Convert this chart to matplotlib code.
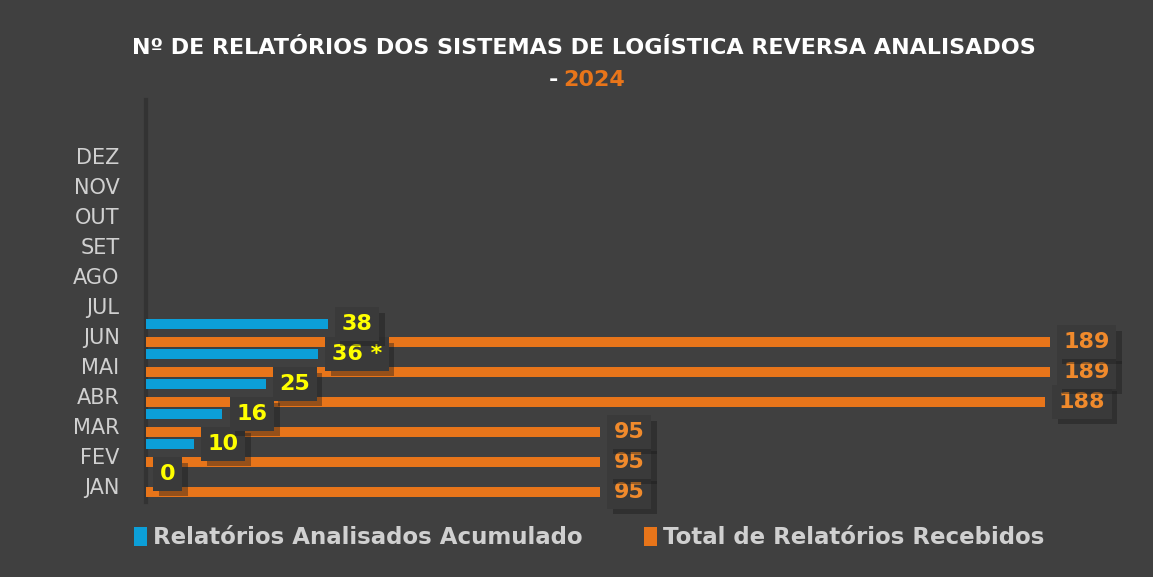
import numpy as np
import matplotlib.pyplot as plt
import matplotlib.patheffects as pe

# data
meses = ['JAN', 'FEV', 'MAR', 'ABR', 'MAI', 'JUN', 'JUL', 'AGO', 'SET', 'OUT', 'NOV', 'DEZ']
analisados = [0, 10, 16, 25, 36, 38]
analisados_txt = ['0', '10', '16', '25', '36 *', '38']
recebidos = [95, 95, 95, 188, 189, 189]

BG = '#404040'
AZUL = '#0c9fd8'
LARANJA = '#e8751a'
AMARELO = '#ffff00'
CINZA = '#d0d0d0'

fig = plt.figure(figsize=(11.53, 5.77), dpi=100, facecolor=BG)
ax = fig.add_axes([146 / 1153, 75 / 577, 980 / 1153, 402 / 577])
ax.set_facecolor(BG)

y = np.arange(len(meses))
n = len(analisados)
h = 0.31

ax.barh(y[:n] + 0.4, analisados, height=h, color=AZUL, zorder=3,
        label='Relatórios Analisados Acumulado')
ax.barh(y[:n] - 0.2, recebidos, height=h, color=LARANJA, zorder=3,
        label='Total de Relatórios Recebidos')


def rotulo(x, yy, txt, cor):
    t = ax.annotate(txt, (x, yy), xytext=(10, 0), textcoords='offset points',
                    ha='left', va='center', fontsize=16, fontweight='bold', color=cor,
                    bbox=dict(boxstyle='square,pad=0.3', fc='#3a3a3a', ec='none'),
                    zorder=5)
    t.get_bbox_patch().set_path_effects(
        [pe.SimplePatchShadow(offset=(4, -4), shadow_rgbFace='#1a1a1a', alpha=0.4), pe.Normal()])


for i in range(n):
    rotulo(recebidos[i], y[i] - 0.2, str(recebidos[i]), '#f08a2c')
    rotulo(analisados[i], y[i] + 0.4, analisados_txt[i], AMARELO)

ax.set_xlim(0, 205)
ax.set_ylim(-0.53, 12.87)
ax.set_yticks(y)
ax.set_yticklabels(meses, fontsize=15, color=CINZA)
ax.tick_params(axis='y', length=0, pad=19)
ax.set_xticks([])
for s in ['top', 'right', 'bottom']:
    ax.spines[s].set_visible(False)
ax.spines['left'].set_color('#333333')
ax.spines['left'].set_linewidth(3)

fig.text(0.506, 1 - 48 / 577, 'Nº DE RELATÓRIOS DOS SISTEMAS DE LOGÍSTICA REVERSA ANALISADOS',
         ha='center', va='center', fontsize=16, fontweight='bold', color='white')
fig.text(553 / 1153, 1 - 80 / 577, '-', ha='center', va='center', fontsize=16,
         fontweight='bold', color='white')
fig.text(563 / 1153, 1 - 80 / 577, '2024', ha='left', va='center', fontsize=16,
         fontweight='bold', color=LARANJA)

leg = fig.legend(loc='center', bbox_to_anchor=(0.511, 1 - 538 / 577), ncol=2, frameon=False,
                 handlelength=0.55, handleheight=0.9, handletextpad=0.25, columnspacing=2.7,
                 prop={'size': 16.5, 'weight': 'bold'}, labelcolor=CINZA)

fig.savefig('out.png', dpi=100, facecolor=BG)
